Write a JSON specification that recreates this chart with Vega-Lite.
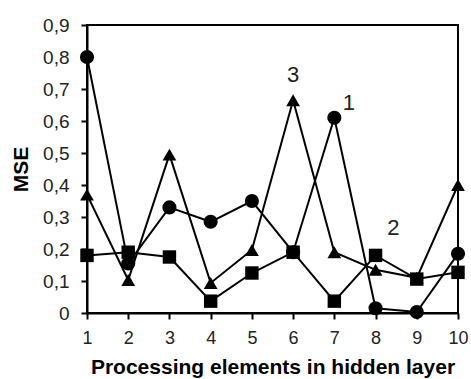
{
  "$schema": "https://vega.github.io/schema/vega-lite/v6.json",
  "autosize": {"type": "none"},
  "width": 371,
  "height": 288,
  "padding": {"left": 87, "top": 25, "right": 13, "bottom": 66},
  "background": "white",
  "config": {
    "view": {"stroke": "black", "strokeWidth": 2},
    "font": "Liberation Sans"
  },
  "datasets": {
    "series": [
      {"pe": 1, "mse": 0.80, "s": "1"},
      {"pe": 2, "mse": 0.155, "s": "1"},
      {"pe": 3, "mse": 0.33, "s": "1"},
      {"pe": 4, "mse": 0.285, "s": "1"},
      {"pe": 5, "mse": 0.35, "s": "1"},
      {"pe": 6, "mse": 0.19, "s": "1"},
      {"pe": 7, "mse": 0.61, "s": "1"},
      {"pe": 8, "mse": 0.015, "s": "1"},
      {"pe": 9, "mse": 0.003, "s": "1"},
      {"pe": 10, "mse": 0.185, "s": "1"},
      {"pe": 1, "mse": 0.37, "s": "3"},
      {"pe": 2, "mse": 0.103, "s": "3"},
      {"pe": 3, "mse": 0.495, "s": "3"},
      {"pe": 4, "mse": 0.094, "s": "3"},
      {"pe": 5, "mse": 0.197, "s": "3"},
      {"pe": 6, "mse": 0.665, "s": "3"},
      {"pe": 7, "mse": 0.19, "s": "3"},
      {"pe": 8, "mse": 0.135, "s": "3"},
      {"pe": 9, "mse": 0.11, "s": "3"},
      {"pe": 10, "mse": 0.40, "s": "3"},
      {"pe": 1, "mse": 0.18, "s": "2"},
      {"pe": 2, "mse": 0.19, "s": "2"},
      {"pe": 3, "mse": 0.175, "s": "2"},
      {"pe": 4, "mse": 0.037, "s": "2"},
      {"pe": 5, "mse": 0.125, "s": "2"},
      {"pe": 6, "mse": 0.19, "s": "2"},
      {"pe": 7, "mse": 0.037, "s": "2"},
      {"pe": 8, "mse": 0.18, "s": "2"},
      {"pe": 9, "mse": 0.106, "s": "2"},
      {"pe": 10, "mse": 0.127, "s": "2"}
    ],
    "labels": [
      {"pe": 6.0, "mse": 0.745, "t": "3"},
      {"pe": 7.35, "mse": 0.655, "t": "1"},
      {"pe": 8.43, "mse": 0.265, "t": "2"}
    ]
  },
  "encoding": {
    "x": {
      "field": "pe", "type": "quantitative",
      "scale": {"domain": [1, 10], "nice": false, "zero": false},
      "axis": {
        "values": [1,2,3,4,5,6,7,8,9,10],
        "grid": false, "domainColor": "black", "domainWidth": 2,
        "tickColor": "black", "tickWidth": 2, "tickSize": 6,
        "labelFont": "Liberation Sans", "labelFontSize": 18, "labelColor": "#222",
        "labelPadding": 10, "labelFlush": false,
        "title": "Processing elements in hidden layer",
        "titleFont": "Liberation Sans", "titleFontSize": 21, "titleFontWeight": "bold",
        "titleColor": "black", "titlePadding": 9
      }
    },
    "y": {
      "field": "mse", "type": "quantitative",
      "scale": {"domain": [0, 0.9], "nice": false},
      "axis": {
        "values": [0,0.1,0.2,0.3,0.4,0.5,0.6,0.7,0.8,0.9],
        "labelExpr": "datum.value == 0 ? '0' : replace(format(datum.value, '.1f'), '.', ',')",
        "grid": false, "domainColor": "black", "domainWidth": 2,
        "tickColor": "black", "tickWidth": 2, "tickSize": 6,
        "labelFont": "Liberation Sans", "labelFontSize": 19, "labelColor": "#222",
        "labelPadding": 12, "labelFlush": false,
        "title": "MSE",
        "titleFont": "Liberation Sans", "titleFontSize": 21, "titleFontWeight": "bold",
        "titleColor": "black", "titlePadding": 11
      }
    }
  },
  "layer": [
    {
      "data": {"name": "series"},
      "mark": {"type": "line", "color": "black", "strokeWidth": 2},
      "encoding": {"detail": {"field": "s"}}
    },
    {
      "data": {"name": "series"},
      "mark": {"type": "point", "filled": true, "color": "black", "opacity": 1},
      "encoding": {
        "shape": {
          "field": "s", "type": "nominal",
          "scale": {"domain": ["1", "3", "2"], "range": ["circle", "triangle-up", "square"]},
          "legend": null
        },
        "size": {
          "field": "s", "type": "nominal",
          "scale": {"domain": ["1", "3", "2"], "range": [200, 180, 260]},
          "legend": null
        },
        "order": {"field": "s"}
      }
    },
    {
      "data": {"name": "labels"},
      "mark": {"type": "text", "font": "Liberation Sans", "fontSize": 22, "color": "#222"},
      "encoding": {"text": {"field": "t"}}
    }
  ]
}
